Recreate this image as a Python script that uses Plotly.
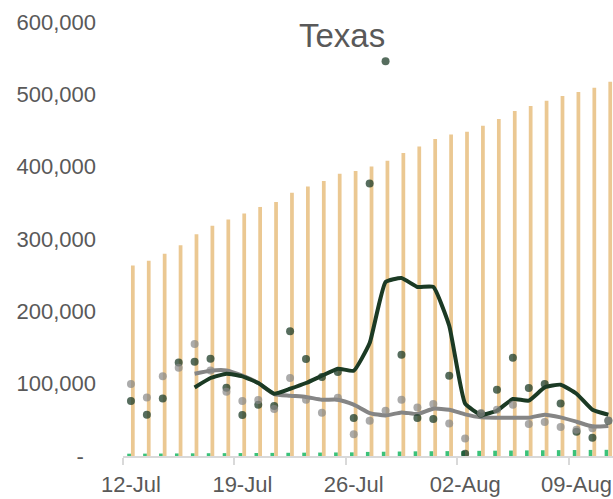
import pandas as pd
import plotly.graph_objects as go

# ---- data ----
start_date = "2020-07-12"
n_days = 31
dates = pd.date_range(start_date, periods=n_days)

cum_cases = [263500, 270000, 279700, 291200, 306400, 318400, 327100, 335400, 344300, 351200,
             364000, 372700, 380200, 390300, 394000, 400400, 408300, 418900, 428000, 438300,
             444600, 448400, 456600, 465900, 477000, 483900, 491200, 497700, 503200, 509200,
             517500]

cum_deaths = [3200, 3300, 3400, 3550, 3700, 3850, 3950, 4050, 4150, 4300,
              4450, 4600, 4750, 4900, 5050, 5650, 5900, 6200, 6450, 6600,
              6750, 6950, 7150, 7350, 7550, 7750, 7950, 8100, 8250, 8400,
              8550]

dark_dots = [76000, 57100, 79600, 129400, 130400, 134500, 94400, 56700, 70900, 69100,
             172300, 134100, 109200, 116100, 52500, 376900, 545600, 140100, 52500, 51200,
             111000, 3200, 58500, 91700, 135900, 94000, 99500, 72700, 33600, 25300,
             48800]

grey_dots = [99500, 81000, 110100, 122100, 154800, 118300, 88900, 76000, 77400, 65000,
             107800, 77800, 59900, 80600, 29900, 48800, 62600, 77800, 67200, 71900,
             45100, 24300, 59400, 64000, 70900, 44200, 47000, 40100, 36400, 38200,
             49200]

dark_line = [None, None, None, None, 94800, 107800, 113800, 110100, 100900, 86100,
             93000, 100900, 111000, 120700, 117900, 156200, 240600, 246100, 233700, 233700,
             180100, 72300, 57100, 62600, 78800, 76500, 94800, 98600, 86100, 64000,
             57100]

grey_line = [None, None, None, None, 113800, 117900, 118300, 111000, 100900, 85700,
             83400, 81600, 77800, 77800, 70900, 59400, 56100, 60300, 58100, 65400,
             64000, 57500, 53400, 53000, 53000, 53000, 57100, 53400, 47400, 40900,
             41500]

tick_dates = ["2020-07-12", "2020-07-19", "2020-07-26", "2020-08-02", "2020-08-09"]
tick_labels = ["12-Jul", "19-Jul", "26-Jul", "02-Aug", "09-Aug"]

y_ticks = [0, 100000, 200000, 300000, 400000, 500000, 600000]
y_labels = ["-\u00a0\u00a0", "100,000", "200,000", "300,000", "400,000", "500,000", "600,000"]

title_text = "Texas"

# ---- figure ----
FONT = "Liberation Sans, Arial, sans-serif"
TXT = "#595959"

fig = go.Figure()

fig.add_trace(go.Bar(x=dates, y=cum_deaths, marker=dict(color="#3BC27A", line=dict(width=0)),
                     name="Deaths"))
fig.add_trace(go.Bar(x=dates, y=cum_cases, marker=dict(color="#EBC892", line=dict(width=0)),
                     name="Cases"))

fig.add_trace(go.Scatter(x=dates, y=grey_line, mode="lines",
                         line=dict(color="#858585", width=4, shape="spline", smoothing=0.5),
                         connectgaps=False, name="grey avg"))
fig.add_trace(go.Scatter(x=dates, y=dark_line, mode="lines",
                         line=dict(color="#1B3A24", width=4, shape="spline", smoothing=0.4),
                         connectgaps=False, name="dark avg"))

fig.add_trace(go.Scatter(x=dates, y=dark_dots, mode="markers",
                         marker=dict(color="rgba(30,60,40,0.75)", size=8, line=dict(width=0)),
                         name="dark"))
fig.add_trace(go.Scatter(x=dates, y=grey_dots, mode="markers",
                         marker=dict(color="rgba(135,135,135,0.7)", size=8, line=dict(width=0)),
                         name="grey"))

minor_vals = [pd.Timestamp(d) - pd.Timedelta(hours=12) for d in tick_dates]

fig.update_layout(
    width=613, height=499,
    margin=dict(l=123, r=0, t=22, b=43, autoexpand=False),
    paper_bgcolor="white", plot_bgcolor="white",
    showlegend=False,
    barmode="group", bargap=0.53, bargroupgap=0,
    font=dict(family=FONT, color=TXT, size=22),
    xaxis=dict(
        type="date", automargin=False,
        range=["2020-07-11 12:00", "2020-08-11 07:00"],
        tickmode="array", tickvals=tick_dates, ticktext=tick_labels,
        ticks="", showgrid=False, zeroline=False,
        showline=True, linecolor="#D9D9D9", linewidth=2,
        tickfont=dict(family=FONT, color=TXT, size=22),
        ticklabelstandoff=8,
        minor=dict(tickmode="array", tickvals=minor_vals, ticks="outside",
                   ticklen=7, tickwidth=2, tickcolor="#D9D9D9", showgrid=False),
    ),
    yaxis=dict(
        automargin=False,
        range=[0, 600000],
        tickmode="array", tickvals=y_ticks, ticktext=y_labels,
        ticks="", showgrid=False, zeroline=False, showline=False,
        tickfont=dict(family=FONT, color=TXT, size=22),
        ticklabelstandoff=26,
    ),
    annotations=[dict(
        text=title_text, xref="paper", yref="paper",
        x=(342 - 123) / 490, y=1 + (22 - 36) / 434,
        xanchor="center", yanchor="middle", showarrow=False,
        font=dict(family=FONT, color=TXT, size=33),
    )],
)

fig.write_html("out.html",
               config={"displayModeBar": False},
               post_script="document.body.style.margin='0px';document.body.style.overflow='hidden';")
